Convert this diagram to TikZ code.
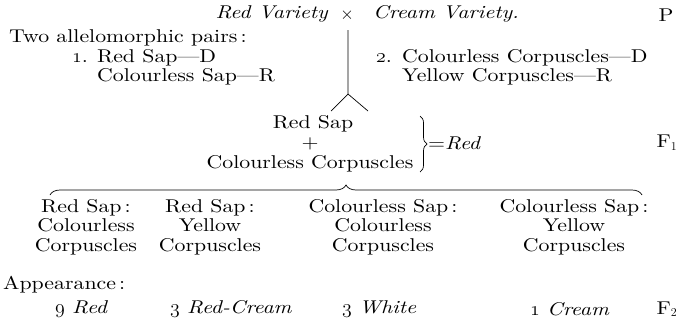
\documentclass[tikz,border=0pt]{standalone}
\usepackage{fontspec}
\usepackage{graphicx}
\setmainfont{lmroman10-regular.otf}[FakeStretch=1.18,
  ItalicFont=lmroman10-italic.otf, ItalicFeatures={FakeStretch=1.18}]
\usetikzlibrary{decorations.pathreplacing}
\newcommand\osn[1]{\scalebox{1.15}{\usefont{OML}{cmm}{m}{it}#1}}
\begin{document}
\begin{tikzpicture}[x=1pt,y=-1pt,
  txt/.style={inner sep=0pt,font=\fontsize{18.5}{19.5}\selectfont},
  lbl/.style={txt,anchor=west},
  ctr/.style={txt,anchor=center,align=center},
  ln/.style={line width=0.7pt}]
\useasboundingbox (0,0) rectangle (684,322);
% top row
\node[ctr,anchor=east] (rv) at (328,14) {\itshape Red Variety};
\node[ctr] (x) at (347,15) {$\times$};
\node[ctr,anchor=west] (cv) at (373,14) {\itshape Cream Variety.};
\node[ctr] (P) at (666,15) {P};
% pairs
\node[lbl] (two) at (9,38) {Two allelomorphic pairs\,:};
\node[lbl] (n1) at (72,58) {\osn{1}.};
\node[lbl] (p1) at (97,58) {Red Sap---D};
\node[lbl] (p1b) at (97,77) {Colourless Sap---R};
\node[lbl] (n2) at (376,58) {\osn{2}.};
\node[lbl] (p2) at (402,58) {Colourless Corpuscles---D};
\node[lbl] (p2b) at (402,77) {Yellow Corpuscles---R};
% cross lines
\coordinate (top) at (348,30);
\coordinate (split) at (348,94);
\coordinate (la) at (331,111);
\coordinate (ra) at (368,111);
\draw[ln] (top) -- (split) -- (la);
\draw[ln] (split) -- (ra);
% F1
\node[ctr] (rs) at (313,124) {Red Sap};
\node[ctr] (plus) at (310,144) {+};
\node[ctr] (cc) at (310,164) {Colourless Corpuscles};
\draw[ln,decorate,decoration={brace,amplitude=7pt}] (420,116) -- (420,172);
\node[lbl] (eq) at (428,143) {=\textit{Red}};
\node[ctr] (F1) at (667,143) {F$_1$};
% big brace
\draw[ln,decorate,decoration={brace,amplitude=10pt}] (50,195) -- (642,195);
% four columns
\node[ctr] (c1) at (86,227) {Red Sap\,:\\Colourless\\Corpuscles};
\node[ctr] (c2) at (210,227) {Red Sap\,:\\Yellow\\Corpuscles};
\node[ctr] (c3) at (383,227) {Colourless Sap\,:\\Colourless\\Corpuscles};
\node[ctr] (c4) at (574,227) {Colourless Sap\,:\\Yellow\\Corpuscles};
% appearance
\node[lbl] (app) at (3,285) {Appearance\,:};
\node[lbl] (a1) at (55,309) {\osn{9} \textit{Red}};
\node[lbl] (a2) at (170,309) {\osn{3} \textit{Red-Cream}};
\node[lbl] (a3) at (342,309) {\osn{3} \textit{White}};
\node[lbl] (a4) at (530,309) {\osn{1} \textit{Cream}};
\node[ctr] (F2) at (667,309) {F$_2$};
\end{tikzpicture}
\end{document}
